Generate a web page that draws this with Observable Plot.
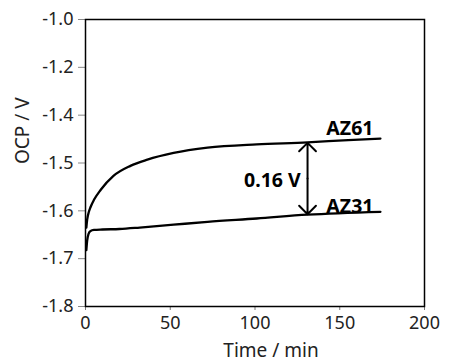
<!DOCTYPE html>
<html>
<head>
<meta charset="utf-8">
<script src="https://cdn.jsdelivr.net/npm/d3@7"></script>
<script src="https://cdn.jsdelivr.net/npm/@observablehq/plot@0.6"></script>
<style>
  html, body { margin: 0; padding: 0; background: #fff; }
</style>
</head>
<body>
<div id="chart"></div>
<script>
// Data
const az61Time = [0.5, 1, 2, 3, 5, 9, 16.5, 26.5, 36.5, 52, 72, 101, 131, 155, 174];
const az61OCP  = [-1.635, -1.618, -1.602, -1.592, -1.577, -1.556, -1.527, -1.506, -1.493, -1.479, -1.468, -1.461, -1.457, -1.452, -1.449];
const az31Time = [0.5, 1, 1.8, 3, 5, 10, 20, 32, 52, 72, 101, 131, 174];
const az31OCP  = [-1.682, -1.662, -1.648, -1.642, -1.640, -1.639, -1.638, -1.635, -1.629, -1.623, -1.616, -1.608, -1.602];

const xTicks = [0, 50, 100, 150, 200];
const yTickValues = [-1.8, -1.7, -1.6, -1.5, -1.4, -1.3, -1.2];
const yTickLabels = ["-1.8", "-1.7", "-1.6", "-1.5", "-1.4", "-1.2", "-1.0"];
const xTitle = "Time / min";
const yTitle = "OCP / V";

const seriesNames = ["AZ61", "AZ31"];
const labelTime = [156, 156];
const labelOCP = [-1.428, -1.591];

const gapTime = 131;
const gapTop = -1.458;
const gapBottom = -1.607;
const gapLabel = "0.16 V";
const gapLabelTime = 127;
const gapLabelOCP = -1.537;

const rows = [
  ...az61Time.map((t, i) => ({series: "AZ61", t, v: az61OCP[i]})),
  ...az31Time.map((t, i) => ({series: "AZ31", t, v: az31OCP[i]}))
];
const labels = seriesNames.map((s, i) => ({s, t: labelTime[i], v: labelOCP[i]}));
const gapMid = (gapTop + gapBottom) / 2;

const chart = Plot.plot({
  width: 452,
  height: 363,
  marginLeft: 85,
  marginRight: 28,
  marginTop: 19,
  marginBottom: 57,
  style: {fontFamily: "'Noto Sans', sans-serif", fontSize: "18px", color: "#222", background: "#fff"},
  x: {domain: [0, 200]},
  y: {domain: [-1.8, -1.2]},
  marks: [
    Plot.axisX({ticks: xTicks, tickSize: 4, stroke: "#777", tickPadding: 6, fontSize: 18, label: null, fill: "#222"}),
    Plot.axisY({ticks: yTickValues, tickFormat: (d) => yTickLabels[yTickValues.findIndex(v => Math.abs(v - d) < 1e-9)], tickSize: 7, stroke: "#888", tickPadding: 5, fontSize: 18, label: null, fill: "#222"}),
    Plot.text([xTitle], {frameAnchor: "bottom", dx: 16, dy: 44, fontSize: 19, fill: "#222", lineAnchor: "middle"}),
    Plot.text([yTitle], {frameAnchor: "left", dx: -63, dy: 1, rotate: -90, fontSize: 19, fill: "#222", lineAnchor: "middle"}),
    Plot.line(rows, {x: "t", y: "v", z: "series", stroke: "#000", strokeWidth: 2.3, curve: "monotone-x"}),
    Plot.arrow([{x: gapTime, y1: gapMid, y2: gapTop}, {x: gapTime, y1: gapMid, y2: gapBottom}], {x: "x", y1: "y1", y2: "y2", stroke: "#000", strokeWidth: 2, headLength: 10, headAngle: 90}),
    Plot.text(labels, {x: "t", y: "v", text: "s", fontWeight: "bold", fontSize: 19.5, fill: "#000"}),
    Plot.text([{t: gapLabelTime, v: gapLabelOCP, s: gapLabel}], {x: "t", y: "v", text: "s", textAnchor: "end", fontWeight: "bold", fontSize: 19.5, fill: "#000"}),
    Plot.frame({stroke: "#000", strokeWidth: 1.5})
  ]
});
document.getElementById("chart").appendChild(chart);
</script>
</body>
</html>
